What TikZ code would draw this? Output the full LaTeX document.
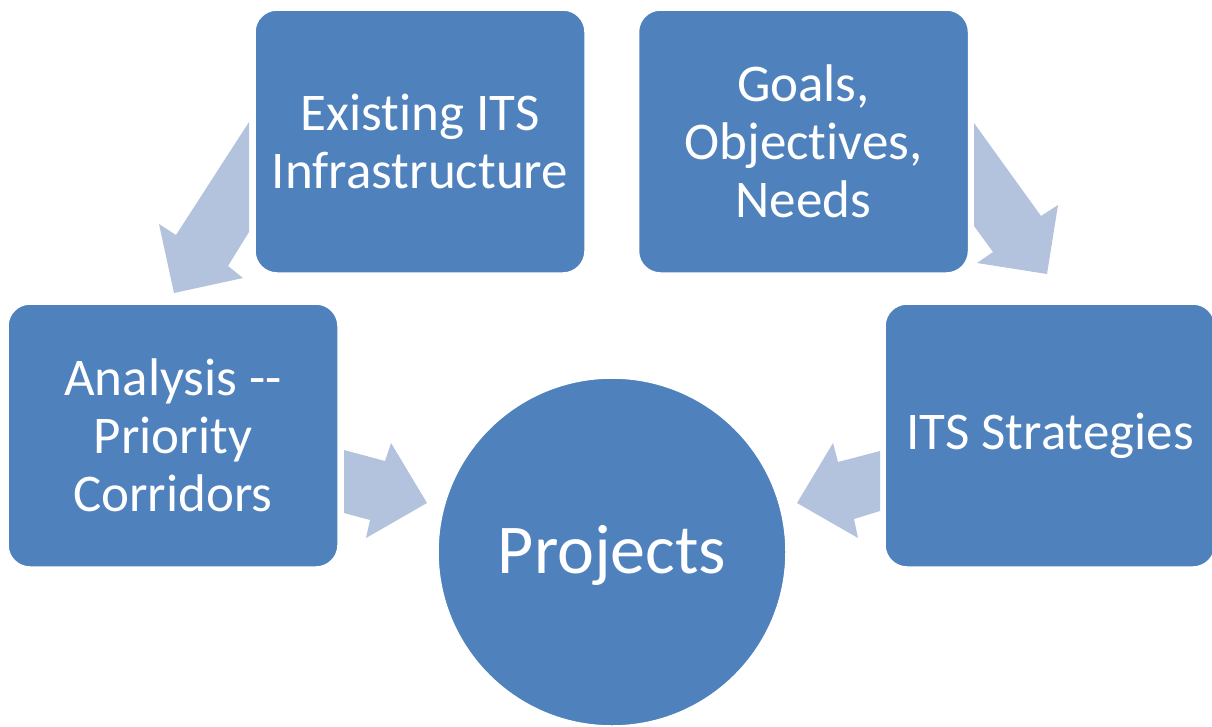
\documentclass[tikz,border=0pt]{standalone}
\usepackage{fontspec}
\setmainfont{Carlito}[Ligatures={NoCommon}]
\definecolor{boxblue}{RGB}{79,129,189}
\definecolor{arrowblue}{RGB}{179,194,221}
\tikzset{
  stagebox/.style={draw=white, line width=1.5pt, fill=boxblue, rounded corners=22pt,
    minimum width=330pt, minimum height=263pt, inner sep=0pt, align=center,
    text=white, font=\fontsize{53}{58}\selectfont},
  hubcircle/.style={circle, draw=white, line width=1.5pt, fill=boxblue, minimum size=348pt,
    inner sep=0pt, text=white, font=\fontsize{70}{80}\selectfont, text height=49pt, text depth=7pt},
  blockarrow/.style={fill=arrowblue, draw=none}
}
\begin{document}
\begin{tikzpicture}[x=1pt, y=-1pt]
\useasboundingbox (0,0) rectangle (1212,726);
% block arrows
\fill[blockarrow] (249,122) -- (176,235) -- (159,224) -- (174,293) -- (243,278) -- (228,266) -- (249,232) -- cycle;
\fill[blockarrow] (974,123) -- (1041,216) -- (1058,205) -- (1047,274) -- (977,263) -- (993,252) -- (974,226) -- cycle;
\fill[blockarrow] (344,450) -- (385,461) -- (391,443) -- (427,503) -- (366,538) -- (370,520) -- (344,513) -- cycle;
\fill[blockarrow] (880,451) -- (838,462) -- (833,443) -- (797,503) -- (858,538) -- (854,519) -- (880,511) -- cycle;
% nodes
\node[stagebox] (existing) at (420,141.5) {Existing ITS\\Infrastructure};
\node[stagebox] (goals) at (803.5,141.5) {Goals,\\Objectives,\\Needs};
\node[stagebox] (analysis) at (173,435.5) {Analysis -{}-\\Priority\\Corridors};
\node[stagebox] (strategies) at (1050,435.5) {ITS Strategies};
\node[hubcircle] (projects) at (612,552) {Projects};
\end{tikzpicture}
\end{document}
